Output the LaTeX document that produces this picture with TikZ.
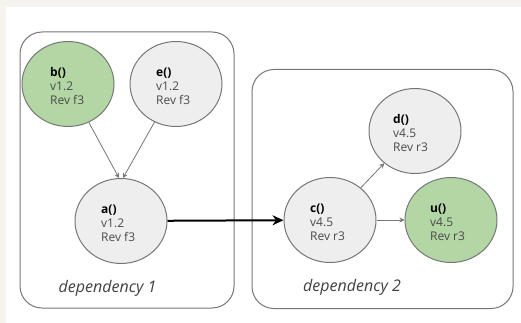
\documentclass[tikz,border=0pt]{standalone}
\usepackage{fontspec}
\setmainfont{Open Sans}
\usetikzlibrary{arrows.meta,shapes.geometric}
\definecolor{bgbeige}{HTML}{F5F4EF}
\definecolor{nodegray}{HTML}{EEEEEE}
\definecolor{nodegreen}{HTML}{B3D6A5}
\definecolor{edgegray}{HTML}{777777}
\definecolor{txtgray}{HTML}{4A4A4A}
\tikzset{
  x=1pt, y=-1pt,
  groupbox/.style={draw=edgegray, line width=1pt, rounded corners=22pt, inner sep=0pt},
  fnnode/.style={ellipse, draw=edgegray, line width=1pt, minimum width=92pt, minimum height=85pt, inner sep=0pt},
  grayfn/.style={fnnode, fill=nodegray},
  greenfn/.style={fnnode, fill=nodegreen},
  lbl/.style={anchor=west, align=left, font=\fontsize{12}{14}\selectfont, text=txtgray, inner sep=0pt},
  thin arrow/.style={draw=edgegray, line width=0.8pt, -{Stealth[length=5pt,width=5pt]}},
  thick arrow/.style={draw=black, line width=2pt, -{Stealth[length=11pt,width=10pt]}},
  grouplbl/.style={anchor=base, font=\itshape\fontsize{16}{18}\selectfont, text=black!75, inner sep=0pt}
}
\begin{document}
\begin{tikzpicture}
\useasboundingbox (0,0) rectangle (521,323);
\fill[bgbeige] (0,0) rectangle (521,323);
\fill[white] (6,7) rectangle (521,323);
% group boxes
\node[groupbox, minimum width=214pt, minimum height=276pt] (g1) at (127,170) {};
\node[groupbox, minimum width=261pt, minimum height=239pt] (g2) at (382.5,189) {};
% nodes
\node[greenfn] (b) at (68,84) {};
\node[grayfn] (e) at (176,84) {};
\node[grayfn] (a) at (121,221) {};
\node[grayfn] (c) at (330,220) {};
\node[grayfn] (d) at (415,131) {};
\node[greenfn] (u) at (451,220) {};
% labels
\node[lbl] (tb) at (50,86) {\textcolor{black}{\textbf{b()}}\\v1.2\\Rev f3};
\node[lbl] (te) at (156,86) {\textcolor{black}{\textbf{e()}}\\v1.2\\Rev f3};
\node[lbl] (ta) at (101,223) {\textcolor{black}{\textbf{a()}}\\v1.2\\Rev f3};
\node[lbl] (tc) at (310,222) {\textcolor{black}{\textbf{c()}}\\v4.5\\Rev r3};
\node[lbl] (td) at (393,133) {\textcolor{black}{\textbf{d()}}\\v4.5\\Rev r3};
\node[lbl] (tu) at (430,222) {\textcolor{black}{\textbf{u()}}\\v4.5\\Rev r3};
% connectors
\coordinate (atop) at (a.north);
\draw[thin arrow] (b) -- ([xshift=-2pt]atop);
\draw[thin arrow] (e) -- ([xshift=2pt]atop);
\draw[thick arrow] (a) -- (c);
\draw[thin arrow] (c) -- (d);
\draw[thin arrow] (c) -- (u);
% group labels
\node[grouplbl] (l1) at (107.5,292) {dependency 1};
\node[grouplbl] (l2) at (352,291) {dependency 2};
\end{tikzpicture}
\end{document}
